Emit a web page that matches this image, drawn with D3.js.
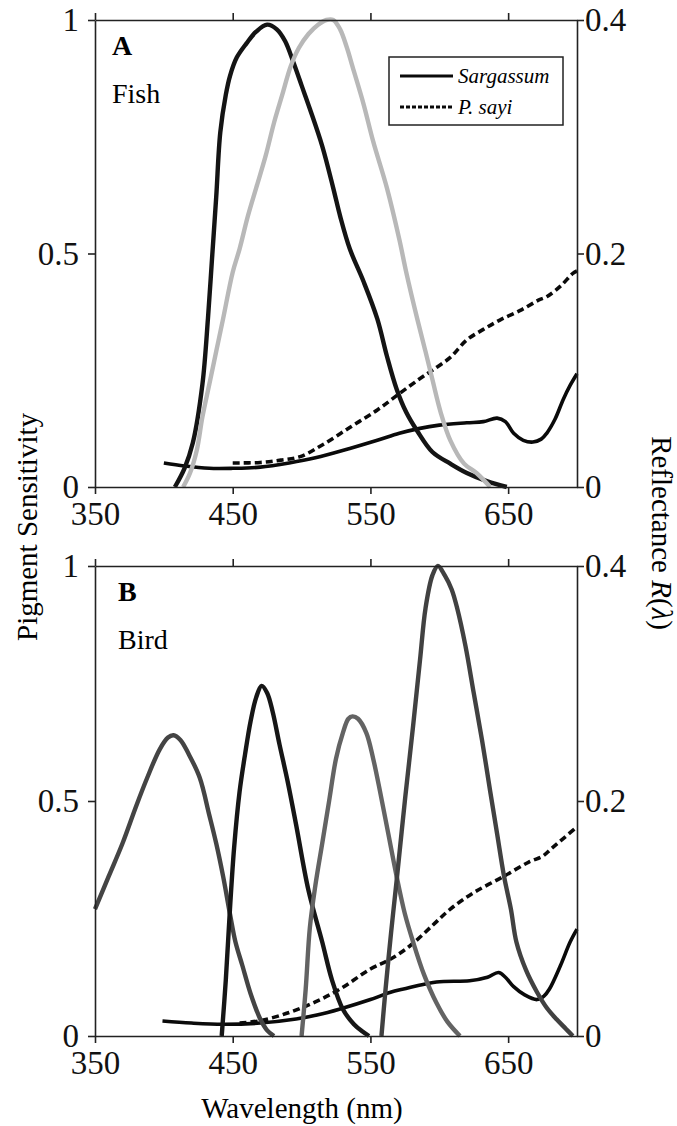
<!DOCTYPE html>
<head>
<meta charset="utf-8">
<title>Pigment sensitivity and reflectance</title>
<script src="https://d3js.org/d3.v7.min.js"></script>
<style>
body { margin: 0; background: #fff; }
.axis path, .axis line { stroke: #222; stroke-width: 1.6; }
</style>
</head>
<body>
<div id="container"></div>
<script>
//------------------------------DATA------------------------------//
// [wavelength nm, value]; pigment curves on left axis (0-1), reflectance on right (0-0.4)
const fishShort = [[408,0],[415,0.04],[421,0.094],[428,0.22],[432,0.36],[435,0.49],[438,0.62],[441,0.76],[445,0.84],[448,0.88],[453,0.92],[460,0.95],[467,0.975],[475,0.99],[482,0.98],[488,0.955],[494,0.91],[500,0.86],[506,0.81],[515,0.73],[523,0.64],[528,0.58],[535,0.51],[545,0.44],[555,0.36],[562,0.28],[569,0.21],[576,0.16],[584,0.12],[595,0.075],[608,0.05],[620,0.03],[635,0.012],[649,0]];
const fishLong = [[414,0],[419,0.03],[424,0.08],[428,0.15],[433,0.22],[438,0.29],[443,0.36],[450,0.46],[455,0.51],[461,0.58],[467,0.64],[474,0.71],[480,0.78],[486,0.84],[492,0.9],[498,0.94],[505,0.97],[512,0.99],[518,1.0],[523,1.0],[528,0.98],[533,0.94],[537,0.9],[545,0.82],[552,0.74],[562,0.64],[571,0.53],[576,0.46],[584,0.36],[590,0.29],[595,0.23],[601,0.16],[608,0.1],[618,0.05],[627,0.03],[637,0]];

const birdUV = [[350,0.27],[360,0.34],[370,0.41],[380,0.49],[388,0.55],[397,0.61],[403,0.635],[407,0.64],[412,0.63],[418,0.6],[426,0.55],[433,0.47],[438,0.41],[443,0.34],[448,0.26],[452,0.2],[457,0.15],[463,0.09],[470,0.036],[475,0.012],[480,0]];
const birdSW = [[442,0],[445,0.12],[448,0.27],[451,0.4],[455,0.52],[459,0.6],[463,0.67],[467,0.72],[471,0.745],[475,0.73],[479,0.69],[484,0.62],[490,0.54],[496,0.45],[505,0.31],[515,0.2],[522,0.12],[530,0.057],[538,0.025],[544,0.01],[549,0]];
const birdMW = [[500,0],[503,0.1],[506,0.23],[510,0.32],[515,0.41],[520,0.5],[525,0.59],[530,0.645],[534,0.675],[537,0.68],[541,0.675],[547,0.645],[552,0.59],[557,0.52],[563,0.43],[569,0.34],[575,0.26],[581,0.2],[589,0.13],[598,0.07],[606,0.03],[615,0]];
const birdLW = [[558,0],[561,0.1],[565,0.22],[569,0.33],[575,0.5],[581,0.66],[586,0.8],[590,0.91],[595,0.98],[599,1.0],[604,0.98],[609,0.95],[613,0.91],[619,0.83],[625,0.73],[631,0.63],[637,0.52],[642,0.43],[647,0.34],[652,0.27],[656,0.2],[663,0.14],[671,0.093],[678,0.06],[685,0.036],[692,0.015],[697,0]];

const sargassumA = [[400,0.0206],[415,0.018],[433,0.016],[450,0.016],[470,0.017],[491,0.0206],[510,0.025],[535,0.033],[555,0.04],[571,0.046],[585,0.05],[600,0.053],[620,0.055],[632,0.056],[642,0.059],[648,0.056],[654,0.046],[661,0.04],[668,0.0385],[674,0.041],[678,0.046],[684,0.058],[690,0.075],[695,0.087],[700,0.097]];
const sayiA = [[450,0.0206],[470,0.021],[485,0.023],[499,0.026],[515,0.036],[535,0.051],[555,0.066],[571,0.08],[585,0.092],[595,0.1],[608,0.111],[620,0.126],[632,0.135],[644,0.143],[660,0.152],[672,0.16],[678,0.163],[688,0.172],[697,0.183],[700,0.185]];
const sargassumB = [[399,0.0127],[420,0.011],[443,0.01],[470,0.011],[496,0.0144],[512,0.018],[528,0.023],[550,0.031],[564,0.037],[574,0.04],[598,0.046],[622,0.047],[635,0.05],[643,0.054],[648,0.05],[654,0.042],[662,0.035],[671,0.031],[676,0.034],[680,0.04],[688,0.06],[695,0.08],[700,0.091]];
const sayiB = [[455,0.011],[470,0.013],[491,0.02],[510,0.029],[528,0.04],[550,0.057],[564,0.065],[579,0.077],[595,0.094],[608,0.108],[625,0.122],[647,0.136],[665,0.148],[675,0.153],[681,0.159],[690,0.168],[700,0.178]];

const xTicks = [350, 450, 550, 650];
const leftTicks = [0, 0.5, 1];
const rightTicks = [0, 0.2, 0.4];
const legendNames = ["Sargassum", "P. sayi"];

//-----------------------------SVG------------------------------//
const width = 677, height = 1126;
const FONT = "Liberation Serif";
const svg = d3.select("#container").append("svg")
    .attr("width", width)
    .attr("height", height);

const x = d3.scaleLinear().domain([350, 700]).range([95, 577]);

const panels = [
  { top: 20, bottom: 487, letter: "A", name: "Fish", nameX: 112,
    pigments: [ {d: fishShort, c: "#141414"}, {d: fishLong, c: "#b8b8b8"} ],
    solid: sargassumA, dashed: sayiA, legend: true },
  { top: 566, bottom: 1036, letter: "B", name: "Bird", nameX: 118,
    pigments: [ {d: birdUV, c: "#444"}, {d: birdSW, c: "#161616"}, {d: birdMW, c: "#636363"}, {d: birdLW, c: "#414141"} ],
    solid: sargassumB, dashed: sayiB, legend: false }
];

const fmt = d => String(d);

// tick label look
function styleAxis(sel) {
  sel.attr("font-family", FONT).attr("font-size", 33);
  sel.selectAll("text").style("font-family", FONT).style("font-size", "33px").attr("fill", "#111");
}

panels.forEach(function(p) {
  const yL = d3.scaleLinear().domain([0, 1]).range([p.bottom, p.top]);
  const yR = d3.scaleLinear().domain([0, 0.4]).range([p.bottom, p.top]);
  const g = svg.append("g");

  const lineL = d3.line().x(d => x(d[0])).y(d => yL(d[1])).curve(d3.curveCatmullRom.alpha(0.5));
  const lineR = d3.line().x(d => x(d[0])).y(d => yR(d[1])).curve(d3.curveCatmullRom.alpha(0.5));

  // reflectance
  g.append("path").attr("d", lineR(p.solid))
    .attr("fill", "none").attr("stroke", "#0a0a0a").attr("stroke-width", 3.6);
  g.append("path").attr("d", lineR(p.dashed))
    .attr("fill", "none").attr("stroke", "#0a0a0a").attr("stroke-width", 3.6)
    .attr("stroke-dasharray", "7,4");

  // pigments
  p.pigments.forEach(function(s) {
    g.append("path").attr("d", lineL(s.d))
      .attr("fill", "none").attr("stroke", s.c).attr("stroke-width", 4.4)
      .attr("stroke-linejoin", "round");
  });

  //---------------------------AXES---------------------------//
  g.append("g").attr("class", "axis")
    .attr("transform", "translate(0," + p.bottom + ")")
    .call(d3.axisBottom(x).tickValues(xTicks).tickSize(7).tickSizeOuter(0).tickPadding(8))
    .call(styleAxis);
  g.append("g").attr("class", "axis")
    .attr("transform", "translate(0," + p.top + ")")
    .call(d3.axisTop(x).tickValues(xTicks).tickSize(7).tickSizeOuter(0).tickFormat(""));
  g.append("g").attr("class", "axis")
    .attr("transform", "translate(" + x(350) + ",0)")
    .call(d3.axisLeft(yL).tickValues(leftTicks).tickSize(7).tickSizeOuter(0).tickPadding(9).tickFormat(fmt))
    .call(styleAxis);
  g.append("g").attr("class", "axis")
    .attr("transform", "translate(" + x(700) + ",0)")
    .call(d3.axisRight(yR).tickValues(rightTicks).tickSize(7).tickSizeOuter(0).tickPadding(1).tickFormat(fmt))
    .call(styleAxis);

  g.append("text").attr("x", p.nameX).attr("y", p.top + 35)
    .style("font-family", FONT).style("font-size", "28px").style("font-weight", "bold").text(p.letter);
  g.append("text").attr("x", p.nameX).attr("y", p.top + 83)
    .style("font-family", FONT).style("font-size", "28px").text(p.name);

  if (p.legend) {
    const lg = g.append("g");
    lg.append("rect").attr("x", 389).attr("y", 57).attr("width", 174).attr("height", 68)
      .attr("fill", "#fff").attr("stroke", "#222").attr("stroke-width", 1.5);
    legendNames.forEach(function(n, i) {
      const yy = 76 + i * 31;
      lg.append("line").attr("x1", 400).attr("x2", 453).attr("y1", yy).attr("y2", yy)
        .attr("stroke", "#0a0a0a").attr("stroke-width", 3.2)
        .attr("stroke-dasharray", i === 1 ? "4,2" : null);
      lg.append("text").attr("x", 458).attr("y", yy + 7)
        .style("font-family", FONT).style("font-size", "21px").style("font-style", "italic").text(n);
    });
  }
});

//---------------------------TITLES---------------------------//
svg.append("text")
  .attr("transform", "translate(37,527) rotate(-90)")
  .attr("text-anchor", "middle")
  .style("font-family", FONT).style("font-size", "29px")
  .text("Pigment Sensitivity");

const rt = svg.append("text")
  .attr("transform", "translate(652,533) rotate(90)")
  .attr("text-anchor", "middle")
  .style("font-family", FONT).style("font-size", "29px");
rt.append("tspan").text("Reflectance ");
rt.append("tspan").style("font-style", "italic").text("R");
rt.append("tspan").text("(");
rt.append("tspan").style("font-style", "italic").text("λ");
rt.append("tspan").text(")");

svg.append("text")
  .attr("x", 302).attr("y", 1118)
  .attr("text-anchor", "middle")
  .style("font-family", FONT).style("font-size", "29px")
  .text("Wavelength (nm)");
</script>
</body>
